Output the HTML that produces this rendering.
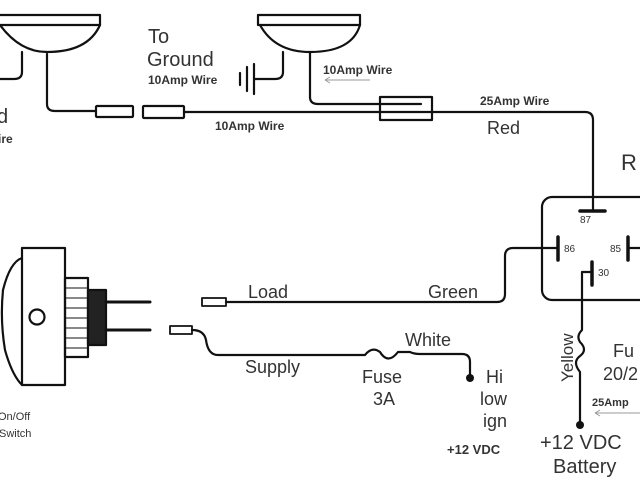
<!DOCTYPE html>
<html><head><style>
html,body{margin:0;padding:0;background:#fff;}
svg{display:block;}
text{font-family:"Liberation Sans",sans-serif;fill:#333;}
</style></head><body>
<svg width="640" height="480" viewBox="0 0 640 480" xmlns="http://www.w3.org/2000/svg">
<g fill="none" stroke="#111" stroke-width="2.2" stroke-linecap="round" stroke-linejoin="round">
<!-- left lamp -->
<path d="M0 15 H100 V25 H0"/>
<path d="M0 25 Q20 52 47 52 Q88 52 100 25"/>
<path d="M22 52 V72 Q22 79 14 79 H0"/>
<path d="M47 54 V104 Q47 111 55 111 H95"/>
<rect x="96" y="106" width="37" height="11" rx="1"/>
<rect x="143" y="106" width="41" height="12" rx="1"/>
<path d="M184 112 H585 Q593 112 593 120 V211"/>
<!-- right lamp -->
<path d="M258 15 H360 V25 H258 Z"/>
<path d="M260 25 Q275 52 310 52 Q352 52 360 25"/>
<path d="M283 52 V72 Q283 79 275 79 H254"/>
<path d="M254 64 V94 M247 67 V91 M240 73 V85"/>
<path d="M310 53 V97 Q310 104 318 104 H421"/>
<rect x="380" y="97" width="52" height="23"/>
<!-- relay -->
<rect x="542" y="197" width="110" height="103" rx="10"/>
<path d="M580 211 H605" stroke-width="3.5"/>
<path d="M558 237 V260 M628 237 V260 M592 262 V285" stroke-width="3.5"/>
<path d="M558 248 H542 M628 248 H640"/>
<path d="M542 248 H513 Q505 248 505 256 V294 Q505 302 497 302 H226"/>
<path d="M592 272 H582 V330 Q576 336 580 342 Q588 350 580 356 Q572 362 580 372 V425"/>
<!-- switch -->
<path d="M22 248 H65 V385 H22 Z"/>
<path d="M22 258 Q10 262 3 290 Q0 320 5 350 Q12 375 22 385"/>
<circle cx="37" cy="317" r="7.5"/>
<rect x="65" y="278" width="23" height="79"/>
<path d="M65 288 H88 M65 298 H88 M65 308 H88 M65 318 H88 M65 328 H88 M65 338 H88 M65 348 H88" stroke-width="1"/>
<rect x="88" y="290" width="18" height="55" fill="#222"/>
<path d="M106 302 H150 M106 330 H150" stroke-width="3"/>
<rect x="202" y="298" width="24" height="8" stroke-width="1.8"/>
<rect x="170" y="326" width="22" height="8" stroke-width="1.8"/>
<path d="M192 330 Q204 330 206 340 Q208 355 218 355 H365 Q372 346 380 352 Q388 365 398 352 Q402 352 410 352 Q414 354 420 354 H462 Q470 354 470 362 V378"/>
</g>
<circle cx="470" cy="378" r="4" fill="#111"/>
<circle cx="580" cy="425" r="4" fill="#111"/>
<path d="M325 80 H370 M325 80 l5 -3 M325 80 l5 3" stroke="#999" stroke-width="1" fill="none"/>
<path d="M595 413 H640 M595 413 l5 -3 M595 413 l5 3" stroke="#999" stroke-width="1" fill="none"/>
<g>
<text x="148" y="43" font-size="20">To</text>
<text x="147" y="66" font-size="20">Ground</text>
<text x="148" y="84" font-size="12" font-weight="bold">10Amp Wire</text>
<text x="215" y="130" font-size="12" font-weight="bold">10Amp Wire</text>
<text x="323" y="74" font-size="12" font-weight="bold">10Amp Wire</text>
<text x="480" y="105" font-size="12" font-weight="bold">25Amp Wire</text>
<text x="487" y="134" font-size="18">Red</text>
<text x="621" y="170" font-size="22">R</text>
<text x="-3" y="123" font-size="20">d</text>
<text x="-2" y="143" font-size="12" font-weight="bold">ire</text>
<text x="580" y="223" font-size="10">87</text>
<text x="564" y="252" font-size="10">86</text>
<text x="610" y="252" font-size="10">85</text>
<text x="598" y="276" font-size="10">30</text>
<text x="248" y="298" font-size="18">Load</text>
<text x="428" y="298" font-size="18">Green</text>
<text x="245" y="373" font-size="18">Supply</text>
<text x="405" y="346" font-size="18">White</text>
<text x="362" y="383" font-size="18">Fuse</text>
<text x="373" y="405" font-size="18">3A</text>
<text x="486" y="383" font-size="18">Hi</text>
<text x="480" y="405" font-size="18">low</text>
<text x="483" y="427" font-size="18">ign</text>
<text x="447" y="454" font-size="13" font-weight="bold">+12 VDC</text>
<text x="0" y="0" font-size="17" transform="translate(573,382) rotate(-90)">Yellow</text>
<text x="613" y="357" font-size="18">Fu</text>
<text x="603" y="380" font-size="18">20/2</text>
<text x="592" y="406" font-size="11" font-weight="bold">25Amp</text>
<text x="540" y="449" font-size="20">+12 VDC</text>
<text x="553" y="473" font-size="20">Battery</text>
<text x="-2" y="420" font-size="11">On/Off</text>
<text x="-1" y="437" font-size="11">Switch</text>
</g>
</svg>
</body></html>
